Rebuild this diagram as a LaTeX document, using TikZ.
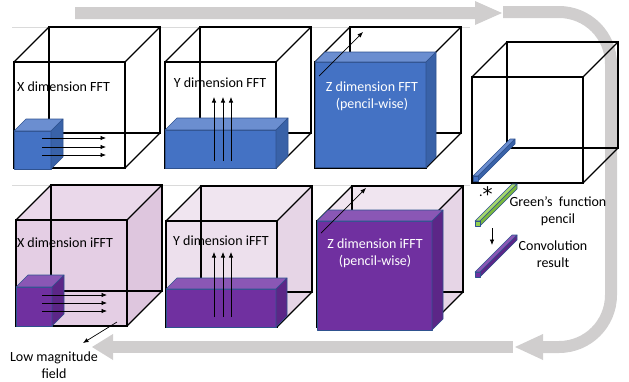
\documentclass[tikz,border=0pt]{standalone}
\usepackage{fontspec}
\setmainfont{Carlito}
\newfontfamily\symfont{DejaVu Sans}
\usetikzlibrary{arrows.meta}

\definecolor{bandgrey}{HTML}{D0CECE}
\definecolor{rulegrey}{HTML}{DADADA}
\definecolor{boxline}{HTML}{2F528F}
\definecolor{blueF}{HTML}{4472C4}
\definecolor{blueT}{HTML}{6B8ED0}
\definecolor{blueS}{HTML}{3962A8}
\definecolor{purpF}{HTML}{7030A0}
\definecolor{purpT}{HTML}{8A57B5}
\definecolor{purpS}{HTML}{5C2687}
\definecolor{greenT}{HTML}{A6D86E}
\definecolor{greenF}{HTML}{92D050}
\definecolor{greenS}{HTML}{7AB83E}
\definecolor{pinkAF}{RGB}{228,206,228}
\definecolor{pinkAT}{RGB}{234,216,234}
\definecolor{pinkAS}{RGB}{222,198,222}
\definecolor{pinkBF}{RGB}{237,224,237}
\definecolor{pinkBT}{RGB}{240,229,240}
\definecolor{pinkBS}{RGB}{230,213,230}

\tikzset{
  edge/.style={draw=black, line width=1.1pt, line join=miter},
  solid box/.style={draw=boxline, line width=0.6pt, line join=round},
  flow/.style={draw=black, line width=0.7pt, -{Latex[length=5.5pt,width=4.5pt]}},
  lbl/.style={font=\fontsize{14}{17}\selectfont, align=center, inner sep=0pt},
}

% wire-frame cube, front face top-left at (#1,#2)
\newcommand{\cubeframe}[2]{%
  \draw[edge] (#1,#2) rectangle ++(111,106);
  \draw[edge] ({#1+35},{#2-35}) rectangle ++(111,106);
  \draw[edge] (#1,#2) -- ++(35,-35);
  \draw[edge] ({#1+111},#2) -- ++(35,-35);
  \draw[edge] ({#1+111},{#2+106}) -- ++(35,-35);
  \draw[edge] (#1,{#2+106}) -- ++(35,-35);
}
% tinted cube faces: front, top, side colours
\newcommand{\cubeshade}[5]{%
  \fill[#3] (#1,#2) rectangle ++(111,106);
  \fill[#4] (#1,#2) -- ++(35,-35) -- ++(111,0) -- ++(-35,35) -- cycle;
  \fill[#5] ({#1+111},#2) -- ++(35,-35) -- ++(0,106) -- ++(-35,35) -- cycle;
}
% solid block: x, y, width, height, depth, front, top, side
\newcommand{\solidbox}[8]{%
  \filldraw[solid box, fill=#6] (#1,#2) rectangle ++(#3,#4);
  \filldraw[solid box, fill=#7] (#1,#2) -- ++(#5,-#5) -- ++(#3,0) -- ++(-#5,#5) -- cycle;
  \filldraw[solid box, fill=#8] ({#1+#3},#2) -- ++(#5,-#5) -- ++(0,#4) -- ++(-#5,#5) -- cycle;
}
% thin diagonal pencil, front square bottom-left at (#1,#2)
\newcommand{\pencilbar}[5]{%
  \filldraw[solid box, fill=#4] (#1,{#2-5}) -- ++(37,-37) -- ++(5,0) -- ++(-37,37) -- cycle;
  \filldraw[solid box, fill=#5] ({#1+5},{#2-5}) -- ++(37,-37) -- ++(0,5) -- ++(-37,37) -- cycle;
  \filldraw[solid box, fill=#3] (#1,{#2-5}) rectangle ++(5,5);
}

\begin{document}
\begin{tikzpicture}[x=1pt,y=-1pt]
\useasboundingbox (0,0) rectangle (629,381);

% faint row rules
\draw[rulegrey, line width=0.8pt] (12,27) -- (470,27);
\draw[rulegrey, line width=0.8pt] (12,185) -- (470,185);

% process-flow bands
\fill[bandgrey] (75,7) -- (475,7) -- (475,1) -- (502,13) -- (475,25) -- (475,19) -- (75,19) -- cycle;
\draw[bandgrey, line width=12pt, rounded corners=52pt] (503,12) -- (611,12) -- (611,347) -- (543,347);
\fill[bandgrey] (543,334) -- (515,347) -- (543,360) -- cycle;
\fill[bandgrey] (113,341) rectangle (513,353);
\fill[bandgrey] (113,334) -- (92,347) -- (113,360) -- cycle;

% ---- forward transforms ----
\cubeframe{14}{62}
\solidbox{14}{131}{37}{38}{12}{blueF}{blueT}{blueS}
\draw[flow] (42,138) -- (106,138);
\draw[flow] (42,147) -- (106,147);
\draw[flow] (42,155) -- (106,155);
\node[lbl] (xfft) at (63.5,87) {X dimension FFT};

\cubeframe{165}{62}
\solidbox{165}{130}{111}{38}{12}{blueF}{blueT}{blueS}
\draw[flow] (214,161) -- (214,97);
\draw[flow] (223,161) -- (223,97);
\draw[flow] (231,161) -- (231,97);
\node[lbl] (yfft) at (220,83) {Y dimension FFT};

\cubeframe{315}{62}
\solidbox{315}{62}{111}{105}{10}{blueF}{blueT}{blueS}
\draw[flow] (319,76) -- (363,32);
\node[lbl, text=white] (zfft) at (372,96) {Z dimension FFT\\(pencil-wise)};

% ---- convolution ----
\cubeframe{472}{77}
\pencilbar{473}{181}{blueF}{blueT}{blueS}
\node[lbl, anchor=base west] (mult) at (479,196) {.\raisebox{-5pt}{\symfont\fontsize{20}{20}\selectfont *}};
\pencilbar{475}{226}{greenF}{greenT}{greenS}
\node[lbl] (green) at (558,211) {Green’s~ function\\pencil};
\draw[flow] (492,228) -- (492,245);
\pencilbar{475}{277}{purpF}{purpT}{purpS}
\node[lbl] (conv) at (553,254) {Convolution\\result};

% ---- inverse transforms ----
\cubeshade{16}{220}{pinkAF}{pinkAT}{pinkAS}
\cubeframe{16}{220}
\solidbox{16}{287}{36}{39}{12}{purpF}{purpT}{purpS}
\draw[flow] (42,295) -- (107,295);
\draw[flow] (42,303) -- (107,303);
\draw[flow] (42,311) -- (107,311);
\node[lbl] (xifft) at (65,243) {X dimension iFFT};

\cubeshade{166}{221}{pinkBF}{pinkBT}{pinkBS}
\cubeframe{166}{221}
\solidbox{166}{289}{110}{38}{11}{purpF}{purpT}{purpS}
\draw[flow] (214,317) -- (214,252);
\draw[flow] (223,317) -- (223,252);
\draw[flow] (231,317) -- (231,252);
\node[lbl] (yifft) at (221,241) {Y dimension iFFT};

\cubeshade{317}{221}{pinkBF}{pinkBT}{pinkBS}
\cubeframe{317}{221}
\solidbox{317}{221}{115}{109}{11}{purpF}{purpT}{purpS}
\draw[flow] (321,233) -- (366,188);
\node[lbl, text=white] (zifft) at (375,253) {Z dimension iFFT\\(pencil-wise)};

% low-magnitude callout
\coordinate (lowtail) at (117,322);
\node[lbl] (low) at (54,365) {Low magnitude\\field};
\draw[flow] (lowtail) -- (83,343);
\end{tikzpicture}
\end{document}
